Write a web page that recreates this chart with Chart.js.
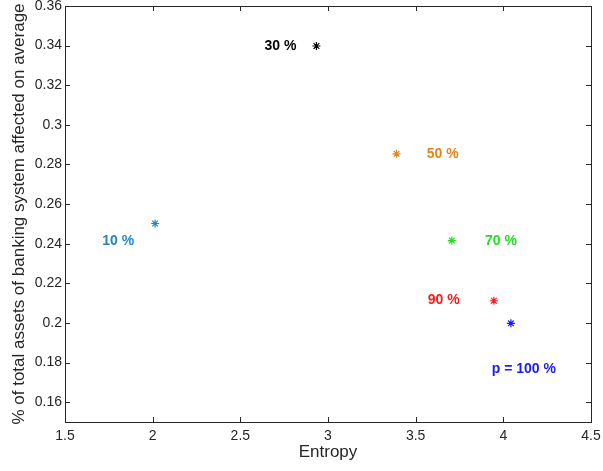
<!DOCTYPE html>
<html>
<head>
<meta charset="utf-8">
<script src="https://cdn.jsdelivr.net/npm/chart.js@4"></script>
<style>
    body { margin: 0; background: #fff; }
    #box { position: relative; width: 603px; height: 471px; }
</style>
</head>
<body>
<div id="box"><canvas id="plot"></canvas></div>
<script>
// data
var entropy = [2.014, 2.934, 3.391, 3.706, 3.946, 4.043];
var affected = [0.2502, 0.3398, 0.2854, 0.2416, 0.2112, 0.1998];
var pointLabels = ['10 %', '30 %', '50 %', '70 %', '90 %', 'p = 100 %'];
var labelX = [1.803, 2.729, 3.654, 3.986, 3.660, 4.117];
var labelY = [0.2411, 0.3398, 0.2854, 0.2411, 0.2117, 0.1766];
var colours = ['#1f86c8', '#000000', '#e0861a', '#1fe01f', '#ff1a1a', '#1a1aff'];
var xTicks = [1.5, 2, 2.5, 3, 3.5, 4, 4.5];
var yTicks = [0.16, 0.18, 0.2, 0.22, 0.24, 0.26, 0.28, 0.3, 0.32, 0.34, 0.36];

var pts = entropy.map(function (x, i) { return { x: x, y: affected[i] }; });

// box + inward ticks, like matlab
var frame = {
    id: 'frame',
    afterDraw: function (chart) {
        var c = chart.ctx, a = chart.chartArea;
        var sx = chart.scales.x, sy = chart.scales.y;
        c.save();
        c.strokeStyle = '#262626';
        c.lineWidth = 1;
        c.strokeRect(a.left + 0.5, a.top + 0.5, a.right - a.left, a.bottom - a.top);
        c.beginPath();
        xTicks.forEach(function (v) {
            var p = Math.round(sx.getPixelForValue(v)) + 0.5;
            c.moveTo(p, a.bottom); c.lineTo(p, a.bottom - 5);
            c.moveTo(p, a.top); c.lineTo(p, a.top + 5);
        });
        yTicks.forEach(function (v) {
            var p = Math.round(sy.getPixelForValue(v)) + 0.5;
            c.moveTo(a.left, p); c.lineTo(a.left + 5, p);
            c.moveTo(a.right, p); c.lineTo(a.right - 5, p);
        });
        c.stroke();

        // the % labels
        c.font = 'bold 14px "Liberation Sans", Arial, sans-serif';
        c.textAlign = 'center';
        c.textBaseline = 'middle';
        pointLabels.forEach(function (t, i) {
            c.fillStyle = colours[i];
            c.fillText(t, sx.getPixelForValue(labelX[i]), sy.getPixelForValue(labelY[i]));
        });
        c.restore();
    }
};

var tickFont = { family: '"Liberation Sans", Arial, sans-serif', size: 14 };
var titleFont = { family: '"Liberation Sans", Arial, sans-serif', size: 17 };

new Chart(document.getElementById('plot'), {
    type: 'scatter',
    data: {
        datasets: [{
            data: pts,
            pointStyle: 'star',
            radius: 4,
            borderWidth: 1.2,
            borderColor: colours,
            backgroundColor: colours
        }]
    },
    options: {
        responsive: true,
        maintainAspectRatio: false,
        animation: false,
        layout: { padding: { top: 6, right: 12, left: 0, bottom: 0 } },
        plugins: { legend: { display: false }, tooltip: { enabled: false } },
        scales: {
            x: {
                type: 'linear',
                min: 1.5, max: 4.5,
                grid: { display: false, drawTicks: false },
                border: { display: false },
                afterBuildTicks: function (s) { s.ticks = xTicks.map(function (v) { return { value: v }; }); },
                afterFit: function (s) { s.height = 49; s.paddingLeft = 0; s.paddingRight = 0; },
                ticks: {
                    color: '#262626', font: tickFont, padding: 6, maxRotation: 0,
                    callback: function (v) { return String(v); }
                },
                title: {
                    display: true, text: 'Entropy', color: '#262626',
                    font: titleFont,
                    padding: { top: 0, bottom: 8 }
                }
            },
            y: {
                type: 'linear',
                min: 0.15, max: 0.36,
                grid: { display: false, drawTicks: false },
                border: { display: false },
                afterBuildTicks: function (s) { s.ticks = yTicks.map(function (v) { return { value: v }; }); },
                afterFit: function (s) { s.width = 65; s.paddingTop = 0; s.paddingBottom = 0; },
                ticks: {
                    color: '#262626', font: tickFont, padding: 3,
                    callback: function (v) { return String(+v.toFixed(2)); }
                },
                title: {
                    display: true, text: '% of total assets of banking system affected on average', color: '#262626',
                    font: titleFont,
                    padding: { top: 9, bottom: 0 }
                }
            }
        }
    },
    plugins: [frame]
});
</script>
</body>
</html>
